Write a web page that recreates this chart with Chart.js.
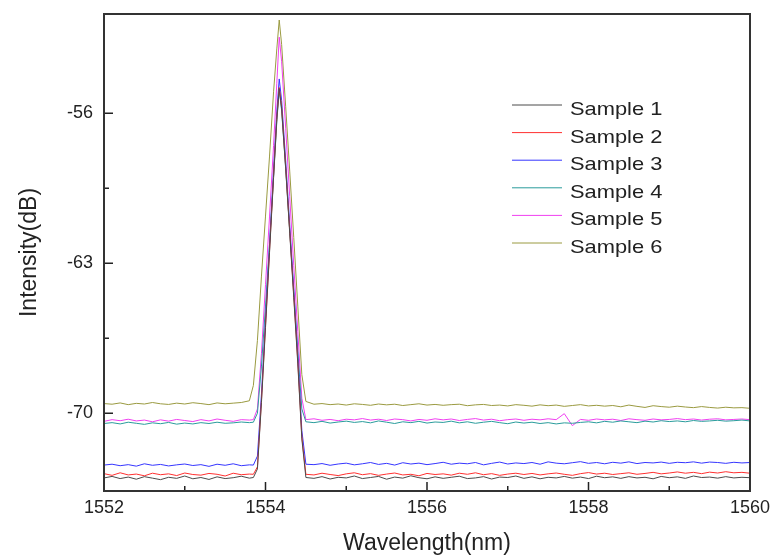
<!DOCTYPE html>
<html><head><meta charset="utf-8">
<script src="https://cdn.jsdelivr.net/npm/chart.js@4.4.0/dist/chart.umd.min.js"></script>
<style>html,body{margin:0;padding:0;background:#fff;}#wrap{width:771px;height:558px;}</style>
</head><body><div id="wrap"><canvas id="c" width="771" height="558"></canvas></div>
<script>
const wavelength = [
1552.0,1552.1,1552.2,1552.3,1552.4,1552.5,1552.6,1552.7,1552.8,1552.9,
1553.0,1553.1,1553.2,1553.3,1553.4,1553.5,1553.6,1553.7,1553.8,1553.85,
1553.9,1553.95,1554.0,1554.05,1554.1,1554.14,1554.17,1554.2,1554.25,1554.3,
1554.35,1554.4,1554.45,1554.5,1554.6,1554.7,1554.8,1554.9,1555.0,1555.1,
1555.2,1555.3,1555.4,1555.5,1555.6,1555.7,1555.8,1555.9,1556.0,1556.1,
1556.2,1556.3,1556.4,1556.5,1556.6,1556.7,1556.8,1556.9,1557.0,1557.1,
1557.2,1557.3,1557.4,1557.5,1557.6,1557.7,1557.8,1557.9,1558.0,1558.1,
1558.2,1558.3,1558.4,1558.5,1558.6,1558.7,1558.8,1558.9,1559.0,1559.1,
1559.2,1559.3,1559.4,1559.5,1559.6,1559.7,1559.8,1559.9,1560.0];

const sample1 = [
-73.02,-72.95,-73.05,-72.98,-73.08,-72.96,-73.03,-73.10,-72.99,-73.04,
-72.93,-73.06,-73.00,-73.09,-72.97,-73.05,-73.01,-72.94,-73.03,-73.00,
-72.6,-69.5,-66.0,-62.5,-59.0,-56.3,-54.85,-55.8,-58.6,-61.6,
-64.6,-67.7,-71.2,-73.0,-73.04,-72.96,-73.07,-72.99,-73.02,-72.93,
-73.05,-73.00,-72.95,-73.08,-72.98,-73.03,-72.92,-73.01,-73.06,-72.97,
-73.04,-72.99,-72.94,-73.05,-73.02,-72.96,-73.07,-72.98,-73.00,-72.93,
-73.04,-72.97,-73.06,-72.99,-73.02,-72.95,-73.03,-72.98,-73.05,-72.94,
-73.01,-72.97,-73.04,-72.96,-73.02,-72.99,-73.06,-72.95,-73.01,-72.97,
-73.04,-72.93,-73.00,-72.98,-73.03,-72.96,-73.02,-72.99,-73.01];

const sample2 = [
-72.82,-72.90,-72.78,-72.88,-72.84,-72.92,-72.80,-72.87,-72.83,-72.91,
-72.79,-72.86,-72.89,-72.81,-72.85,-72.93,-72.80,-72.87,-72.84,-72.85,
-72.5,-69.4,-65.9,-62.4,-58.9,-56.2,-54.8,-55.7,-58.5,-61.5,
-64.5,-67.6,-71.1,-72.85,-72.88,-72.80,-72.86,-72.91,-72.83,-72.78,
-72.87,-72.82,-72.90,-72.84,-72.79,-72.88,-72.85,-72.92,-72.81,-72.86,
-72.83,-72.89,-72.80,-72.85,-72.78,-72.87,-72.82,-72.90,-72.84,-72.80,
-72.86,-72.81,-72.88,-72.83,-72.79,-72.85,-72.90,-72.82,-72.77,-72.84,
-72.80,-72.86,-72.82,-72.78,-72.85,-72.81,-72.76,-72.83,-72.79,-72.74,
-72.80,-72.76,-72.82,-72.75,-72.79,-72.73,-72.78,-72.76,-72.80];

const sample3 = [
-72.42,-72.38,-72.45,-72.40,-72.47,-72.36,-72.43,-72.39,-72.46,-72.41,
-72.37,-72.44,-72.40,-72.48,-72.38,-72.43,-72.36,-72.45,-72.41,-72.42,
-72.0,-69.1,-65.6,-62.1,-58.6,-55.9,-54.4,-55.4,-58.2,-61.2,
-64.2,-67.3,-70.8,-72.38,-72.40,-72.35,-72.43,-72.37,-72.33,-72.41,
-72.36,-72.30,-72.39,-72.34,-72.42,-72.31,-72.37,-72.33,-72.40,-72.35,
-72.29,-72.38,-72.33,-72.36,-72.30,-72.41,-72.34,-72.28,-72.37,-72.32,
-72.35,-72.30,-72.38,-72.27,-72.33,-72.36,-72.31,-72.26,-72.34,-72.30,
-72.36,-72.29,-72.33,-72.27,-72.35,-72.30,-72.32,-72.28,-72.34,-72.29,
-72.31,-72.27,-72.33,-72.28,-72.30,-72.34,-72.29,-72.32,-72.30];

const sample4 = [
-70.48,-70.44,-70.50,-70.42,-70.47,-70.52,-70.45,-70.49,-70.43,-70.51,
-70.46,-70.50,-70.44,-70.48,-70.42,-70.47,-70.45,-70.41,-70.44,-70.42,
-70.0,-67.8,-65.0,-62.1,-59.0,-56.4,-54.9,-55.9,-58.6,-61.5,
-64.3,-67.1,-69.8,-70.40,-70.44,-70.38,-70.46,-70.41,-70.37,-70.43,
-70.39,-70.45,-70.36,-70.42,-70.48,-70.40,-70.44,-70.38,-70.46,-70.41,
-70.43,-70.37,-70.45,-70.40,-70.47,-70.42,-70.38,-70.44,-70.49,-70.41,
-70.46,-70.42,-70.48,-70.44,-70.50,-70.45,-70.47,-70.43,-70.40,-70.45,
-70.38,-70.42,-70.36,-70.40,-70.44,-70.37,-70.41,-70.35,-70.39,-70.36,
-70.40,-70.34,-70.38,-70.36,-70.33,-70.37,-70.35,-70.32,-70.36];

const sample5 = [
-70.38,-70.30,-70.35,-70.28,-70.36,-70.32,-70.40,-70.31,-70.37,-70.29,
-70.34,-70.39,-70.30,-70.36,-70.27,-70.33,-70.38,-70.30,-70.32,-70.30,
-69.8,-67.2,-64.0,-60.8,-57.5,-54.6,-52.45,-53.6,-56.7,-59.9,
-63.1,-66.2,-69.3,-70.30,-70.26,-70.33,-70.29,-70.35,-70.28,-70.31,
-70.25,-70.32,-70.28,-70.34,-70.27,-70.30,-70.36,-70.29,-70.33,-70.26,
-70.31,-70.27,-70.34,-70.29,-70.25,-70.32,-70.28,-70.35,-70.30,-70.27,
-70.33,-70.28,-70.31,-70.26,-70.30,-70.02,-70.58,-70.29,-70.33,-70.27,
-70.31,-70.28,-70.34,-70.26,-70.30,-70.33,-70.27,-70.31,-70.29,-70.25,
-70.30,-70.27,-70.32,-70.28,-70.26,-70.31,-70.29,-70.27,-70.30];

const sample6 = [
-69.55,-69.58,-69.52,-69.60,-69.54,-69.57,-69.50,-69.56,-69.59,-69.53,
-69.57,-69.51,-69.55,-69.60,-69.52,-69.56,-69.53,-69.50,-69.42,-68.7,
-66.6,-63.6,-60.8,-58.0,-55.0,-53.0,-51.65,-52.8,-55.7,-58.7,
-61.8,-65.0,-68.2,-69.45,-69.58,-69.55,-69.60,-69.57,-69.62,-69.56,
-69.59,-69.63,-69.57,-69.61,-69.58,-69.64,-69.60,-69.56,-69.62,-69.59,
-69.63,-69.60,-69.58,-69.65,-69.61,-69.59,-69.64,-69.62,-69.66,-69.60,
-69.63,-69.67,-69.61,-69.65,-69.62,-69.68,-69.64,-69.60,-69.66,-69.63,
-69.67,-69.64,-69.70,-69.62,-69.68,-69.73,-69.65,-69.69,-69.72,-69.67,
-69.71,-69.74,-69.69,-69.73,-69.76,-69.72,-69.75,-69.74,-69.77];

const seriesLabels = ['Sample 1','Sample 2','Sample 3','Sample 4','Sample 5','Sample 6'];
const seriesColors = ['#4a4a4a','#ff3030','#3535ff','#2a9c9c','#f040f0','#9a9a40'];
const xTickValues = [1552,1554,1556,1558,1560];
const xMinorTicks = [1553,1555,1557,1559];
const yTickValues = [-70,-63,-56];
const yMinorTicks = [-66.5,-59.5];

const allSeries = [sample1,sample2,sample3,sample4,sample5,sample6];
const FONT = '"Liberation Sans", Arial, sans-serif';

const frameTicks = {
  id: 'frameTicks',
  afterDraw(chart) {
    const {ctx, chartArea: a, scales: {x, y}} = chart;
    ctx.save();
    ctx.strokeStyle = '#222';
    ctx.lineWidth = 1.5;
    ctx.beginPath();
    xTickValues.forEach(v => { const p = x.getPixelForValue(v); ctx.moveTo(p, a.bottom); ctx.lineTo(p, a.bottom - 9); });
    xMinorTicks.forEach(v => { const p = x.getPixelForValue(v); ctx.moveTo(p, a.bottom); ctx.lineTo(p, a.bottom - 5); });
    yTickValues.forEach(v => { const p = y.getPixelForValue(v); ctx.moveTo(a.left, p); ctx.lineTo(a.left + 9, p); });
    yMinorTicks.forEach(v => { const p = y.getPixelForValue(v); ctx.moveTo(a.left, p); ctx.lineTo(a.left + 5, p); });
    ctx.stroke();
    ctx.strokeStyle = '#333';
    ctx.lineWidth = 2;
    ctx.strokeRect(a.left, a.top, a.right - a.left, a.bottom - a.top);
    ctx.restore();
  }
};

const insideLegend = {
  id: 'insideLegend',
  afterDraw(chart) {
    const ctx = chart.ctx;
    ctx.save();
    ctx.font = '19px ' + FONT;
    ctx.textBaseline = 'alphabetic';
    chart.data.datasets.forEach((ds, i) => {
      const cy = 108 + i * 27.6;
      ctx.strokeStyle = ds.borderColor;
      ctx.lineWidth = 1;
      ctx.beginPath();
      ctx.moveTo(512, cy - 3);
      ctx.lineTo(562, cy - 3);
      ctx.stroke();
      ctx.fillStyle = '#222';
      ctx.save();
      ctx.translate(570, cy + 7);
      ctx.scale(1.15, 1);
      ctx.fillText(ds.label, 0, 0);
      ctx.restore();
    });
    ctx.restore();
  }
};

new Chart(document.getElementById('c'), {
  type: 'line',
  data: {
    datasets: allSeries.map((s, i) => ({
      label: seriesLabels[i],
      data: wavelength.map((w, j) => ({x: w, y: s[j]})),
      borderColor: seriesColors[i],
      borderWidth: 1,
      pointRadius: 0,
      tension: 0,
      fill: false
    }))
  },
  options: {
    responsive: false,
    animation: false,
    devicePixelRatio: 1,
    layout: {padding: {top: 14, right: 21, left: 0, bottom: 0}},
    plugins: {legend: {display: false}, tooltip: {enabled: false}},
    scales: {
      x: {
        type: 'linear', min: 1552, max: 1560,
        afterBuildTicks: s => { s.ticks = xTickValues.map(v => ({value: v})); },
        afterFit: s => { s.height = 67; s.paddingLeft = 0; s.paddingRight = 0; },
        grid: {display: false, drawTicks: false},
        border: {display: false},
        ticks: {font: {family: FONT, size: 18}, color: '#222', padding: 6, maxRotation: 0, autoSkip: false, callback: v => String(v)},
        title: {display: true, text: 'Wavelength(nm)', font: {family: FONT, size: 23}, color: '#222', padding: {top: 0, bottom: 1}}
      },
      y: {
        type: 'linear', min: -73.63, max: -51.37,
        afterBuildTicks: s => { s.ticks = yTickValues.map(v => ({value: v})); },
        afterFit: s => { s.width = 104; s.paddingTop = 0; s.paddingBottom = 0; },
        grid: {display: false, drawTicks: false},
        border: {display: false},
        ticks: {font: {family: FONT, size: 18}, color: '#222', padding: 11, autoSkip: false, callback: v => String(v)},
        title: {display: true, text: 'Intensity(dB)', font: {family: FONT, size: 23}, color: '#222', padding: {top: 16, bottom: 0}}
      }
    }
  },
  plugins: [frameTicks, insideLegend]
});
</script>
</body></html>
